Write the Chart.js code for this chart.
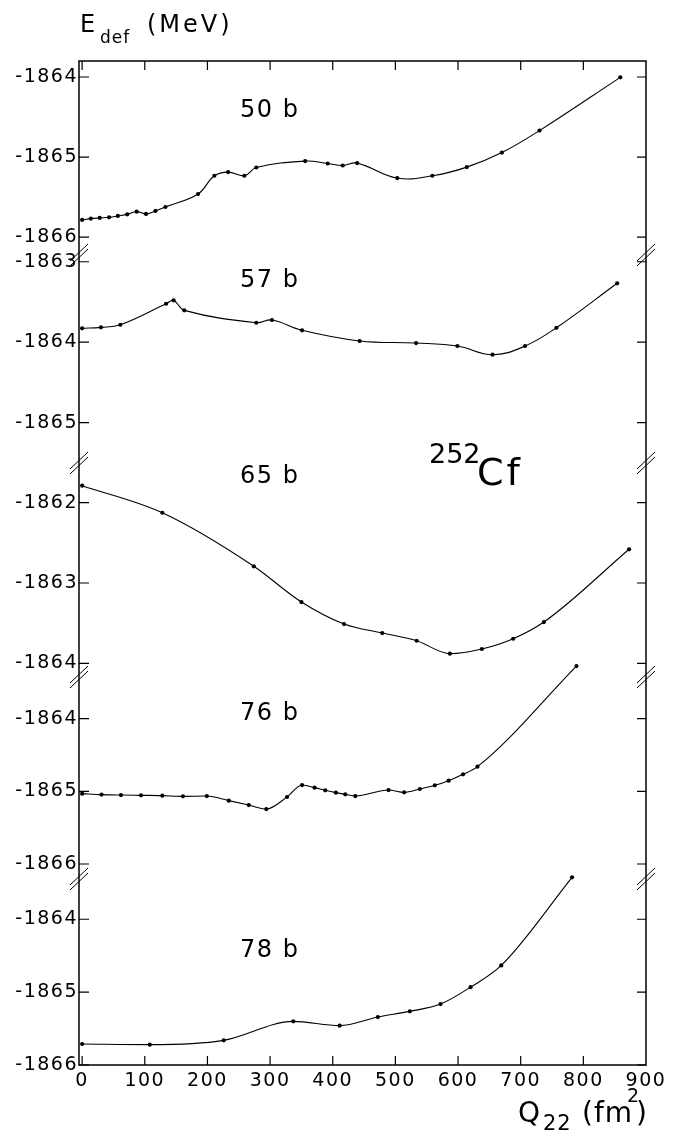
<!DOCTYPE html>
<html lang="en">
<head>
<meta charset="UTF-8" />
<title>252Cf - Edef x Q22</title>
<script src="https://cdn.jsdelivr.net/npm/chart.js"></script>
<style>
  html, body { margin: 0; padding: 0; background: #fff; }
</style>
</head>
<body>
<canvas id="grafico" width="676" height="1134"></canvas>
<script>
  // valores: Q22 (fm2) e Edef (MeV) de cada painel
  const q50 = [0, 14, 28, 43, 57, 72, 87, 102, 117, 133, 185, 211, 233, 259, 278, 356, 392, 416, 439, 503, 559, 614, 670, 730, 859];
  const e50 = [-1865.785, -1865.768, -1865.760, -1865.752, -1865.735, -1865.715, -1865.681, -1865.710, -1865.672, -1865.623,
    -1865.461, -1865.233, -1865.187, -1865.233, -1865.130, -1865.050, -1865.080, -1865.105, -1865.075, -1865.262,
    -1865.233, -1865.125, -1864.943, -1864.669, -1864.004];

  const q57 = [0, 30, 61, 134, 146, 163, 278, 303, 351, 443, 533, 599, 655, 707, 757, 854];
  const e57 = [-1863.827, -1863.815, -1863.783, -1863.522, -1863.480, -1863.604, -1863.758, -1863.724, -1863.852,
    -1863.985, -1864.010, -1864.047, -1864.155, -1864.047, -1863.820, -1863.268];

  const q65 = [0, 128, 274, 350, 418, 479, 534, 587, 638, 688, 737, 873];
  const e65 = [-1861.788, -1862.125, -1862.792, -1863.237, -1863.511, -1863.623, -1863.719, -1863.880, -1863.822,
    -1863.694, -1863.486, -1862.580];

  const q76 = [0, 31, 62, 94, 128, 161, 199, 234, 266, 294, 327, 351, 371, 388, 405, 420, 436, 489, 514, 539, 563, 585, 608, 631, 789];
  const e76 = [-1865.032, -1865.045, -1865.051, -1865.055, -1865.059, -1865.069, -1865.065, -1865.128, -1865.189,
    -1865.244, -1865.078, -1864.913, -1864.949, -1864.986, -1865.018, -1865.041, -1865.065, -1864.982, -1865.014,
    -1864.968, -1864.917, -1864.853, -1864.766, -1864.660, -1863.275];

  const q78 = [0, 108, 226, 337, 411, 472, 523, 572, 620, 669, 782];
  const e78 = [-1865.712, -1865.721, -1865.662, -1865.401, -1865.460, -1865.342, -1865.264, -1865.164, -1864.932,
    -1864.634, -1863.425];

  const nomesPaineis = ['50 b', '57 b', '65 b', '76 b', '78 b'];
  const ticksPaineis = [
    [-1864, -1865, -1866],
    [-1863, -1864, -1865],
    [-1862, -1863, -1864],
    [-1864, -1865, -1866],
    [-1864, -1865, -1866]
  ];
  const limitesPaineis = [
    [-1866.21, -1863.80],
    [-1865.488, -1862.904],
    [-1864.158, -1861.493],
    [-1866.193, -1863.412],
    [-1866.0, -1863.434]
  ];
  const ticksQ = [0, 100, 200, 300, 400, 500, 600, 700, 800, 900];
  const marcasQ = [0, 100, 200, 300, 400, 500, 600, 700, 800];

  const series = [[q50, e50], [q57, e57], [q65, e65], [q76, e76], [q78, e78]];

  // layout (px)
  const alturas = [193, 208, 214, 202, 187];
  const fonte = '"DejaVu Sans", sans-serif';
  const modos = ['default', 'default', 'monotone', 'monotone', 'monotone'];

  const datasets = series.map(([q, e], i) => ({
    label: nomesPaineis[i],
    data: q.map((v, k) => ({ x: v, y: e[k] })),
    yAxisID: 'y' + i,
    borderColor: '#000',
    borderWidth: 1.1,
    tension: 0.4,
    cubicInterpolationMode: modos[i],
    pointRadius: 2.1,
    pointBackgroundColor: '#000',
    pointBorderWidth: 0,
    fill: false,
    clip: false
  }));

  const scales = {
    x: {
      type: 'linear',
      min: -5,
      max: 900,
      afterBuildTicks: s => { s.ticks = ticksQ.map(v => ({ value: v })); },
      afterFit: s => { s.height = 69; },
      grid: { display: false, drawTicks: false },
      border: { display: false },
      ticks: {
        color: '#000',
        font: { family: fonte, size: 19 },
        padding: 5,
        autoSkip: false,
        maxRotation: 0,
        callback: v => String(v)
      }
    }
  };

  ticksPaineis.forEach((lista, i) => {
    scales['y' + i] = {
      type: 'linear',
      position: 'left',
      stack: 'paineis',
      stackWeight: alturas[i],
      weight: 5 - i,
      min: limitesPaineis[i][0],
      max: limitesPaineis[i][1],
      afterBuildTicks: s => { s.ticks = lista.map(v => ({ value: v })); },
      afterFit: s => { s.width = 79; },
      grid: { display: false, drawTicks: false },
      border: { display: false },
      ticks: {
        color: '#000',
        font: { family: fonte, size: 19 },
        padding: 1,
        autoSkip: false,
        callback: v => String(v)
      }
    };
  });

  function texto(ctx, t, x, y, tam, esp) {
    ctx.font = tam + 'px ' + fonte;
    ctx.letterSpacing = esp + 'px';
    ctx.fillText(t, x, y);
  }

  const moldura = {
    id: 'moldura',
    beforeDraw(chart) {
      chart.ctx.letterSpacing = '1.5px';
    },
    afterDraw(chart) {
      const { ctx, chartArea: a } = chart;
      const sc = chart.scales;
      ctx.save();
      ctx.strokeStyle = '#000';
      ctx.fillStyle = '#000';
      ctx.lineWidth = 1.5;
      ctx.strokeRect(a.left, a.top, a.right - a.left, a.bottom - a.top);

      ctx.lineWidth = 1.2;
      ctx.beginPath();
      marcasQ.forEach(v => {
        const px = sc.x.getPixelForValue(v);
        ctx.moveTo(px, a.top); ctx.lineTo(px, a.top + 9);
        ctx.moveTo(px, a.bottom); ctx.lineTo(px, a.bottom - 9);
      });
      ticksPaineis.forEach((lista, i) => {
        const s = sc['y' + i];
        lista.forEach(v => {
          const py = s.getPixelForValue(v);
          ctx.moveTo(a.left, py); ctx.lineTo(a.left + 10, py);
          ctx.moveTo(a.right, py); ctx.lineTo(a.right - 9, py);
        });
      });
      ctx.stroke();

      // quebras do eixo
      ctx.lineWidth = 1;
      ctx.beginPath();
      for (let i = 0; i < 4; i++) {
        const yb = sc['y' + i].bottom + 1;
        [a.left, a.right].forEach(xb => {
          [-2.5, 2.5].forEach(d => {
            ctx.moveTo(xb - 9, yb + d + 8.5);
            ctx.lineTo(xb + 9, yb + d - 8.5);
          });
        });
      }
      ctx.stroke();

      // textos
      ctx.textAlign = 'left';
      ctx.textBaseline = 'alphabetic';
      const base = [117, 287, 483, 720, 957];
      nomesPaineis.forEach((n, i) => texto(ctx, n, 240, base[i], 24, 1.5));

      texto(ctx, 'E', 80, 32, 24, 0);
      texto(ctx, 'def', 100, 43, 17, 1);
      texto(ctx, '(MeV)', 147, 32, 24, 3);

      texto(ctx, '252', 429, 463, 27, 0);
      texto(ctx, 'Cf', 477, 485, 38, 3);

      texto(ctx, 'Q', 518, 1122, 28, 0);
      texto(ctx, '22', 543, 1130, 21, 1);
      texto(ctx, '(fm', 582, 1122, 28, 1);
      texto(ctx, ')', 636, 1122, 28, 0);
      texto(ctx, '2', 627, 1102, 19, 0);

      ctx.restore();
      ctx.letterSpacing = '0px';
    }
  };

  new Chart(document.getElementById('grafico'), {
    type: 'line',
    data: { datasets },
    options: {
      responsive: false,
      animation: false,
      layout: { padding: { top: 61, right: 30, bottom: 0, left: 0 } },
      plugins: {
        legend: { display: false },
        tooltip: { enabled: false }
      },
      scales
    },
    plugins: [moldura]
  });
</script>
</body>
</html>
